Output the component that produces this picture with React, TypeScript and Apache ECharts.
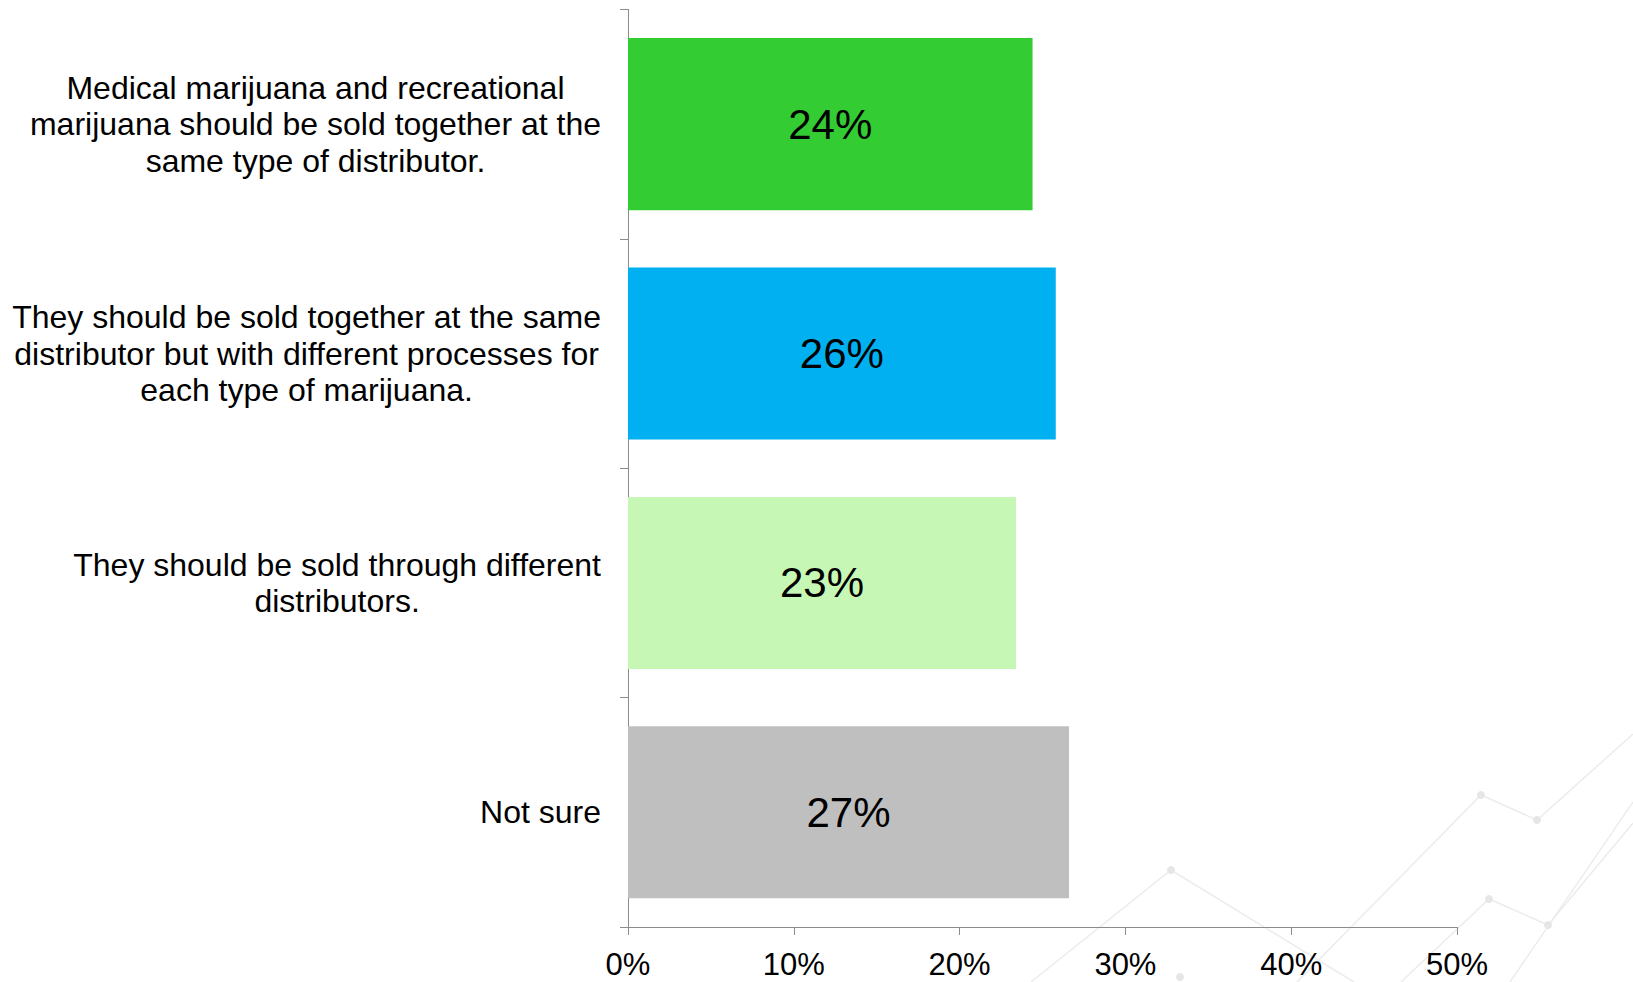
import React, { useEffect, useRef } from "react";
import * as echarts from "echarts";

const categories = [
  "Medical marijuana and recreational\nmarijuana should be sold together at the\nsame type of distributor.",
  "They should be sold together at the same\ndistributor but with different processes for\neach type of marijuana.",
  "They should be sold through different\ndistributors.",
  "Not sure",
];
const values = [24.4, 25.8, 23.4, 26.6];
const valueLabels = ["24%", "26%", "23%", "27%"];
const barColors = ["#33CC33", "#00B0F0", "#C6F7B5", "#BFBFBF"];
const xTicks = [0, 10, 20, 30, 40, 50];

const FONT = '"Liberation Sans", Arial, sans-serif';

// decorative faint watermark lines (background)
const decoLines: number[][][] = [
  [[1031, 982], [1171, 870], [1354, 982]],
  [[1297, 982], [1481, 795], [1537, 820], [1633, 734]],
  [[1401, 982], [1489, 899], [1548, 925], [1633, 823]],
  [[1510, 982], [1633, 802]],
];
const decoDots: number[][] = [
  [1171, 870], [1481, 795], [1537, 820], [1489, 899], [1548, 925], [1180, 977],
];

export default function App() {
  const ref = useRef<HTMLDivElement>(null);
  useEffect(() => {
    if (!ref.current) return;
    const chart = echarts.init(ref.current, null, { renderer: "svg" });
    const graphics: any[] = [];
    decoLines.forEach((pts) =>
      graphics.push({
        type: "polyline",
        z: -1,
        silent: true,
        shape: { points: pts },
        style: { stroke: "#ececec", lineWidth: 1.5, fill: null },
      })
    );
    decoDots.forEach((p) =>
      graphics.push({
        type: "circle",
        z: -1,
        silent: true,
        shape: { cx: p[0], cy: p[1], r: 4 },
        style: { fill: "#e6e6e6" },
      })
    );
    chart.setOption({
      animation: false,
      backgroundColor: "#ffffff",
      graphic: graphics,
      grid: { left: 628, right: 176, top: 9.4, bottom: 55, containLabel: false },
      xAxis: {
        type: "value",
        min: xTicks[0],
        max: xTicks[xTicks.length - 1],
        interval: 10,
        splitLine: { show: false },
        axisLine: { show: true, lineStyle: { color: "#8c8c8c", width: 1 } },
        axisTick: { show: true, length: 8, lineStyle: { color: "#8c8c8c" } },
        axisLabel: {
          formatter: "{value}%",
          fontSize: 31,
          lineHeight: 31,
          fontFamily: FONT,
          color: "#000",
          margin: 22,
        },
      },
      yAxis: {
        type: "category",
        inverse: true,
        data: categories,
        axisLine: { show: true, lineStyle: { color: "#8c8c8c", width: 1 } },
        axisTick: { show: true, length: 8, lineStyle: { color: "#8c8c8c" } },
        axisLabel: {
          margin: 27,
          fontSize: 32,
          fontFamily: FONT,
          color: "#000",
          lineHeight: 36.5,
          formatter: (v: string) =>
            v
              .split("\n")
              .map((l) => "{c|" + l + "}")
              .join("\n"),
          rich: {
            c: {
              align: "center",
              fontSize: 32,
              fontFamily: FONT,
              color: "#000",
              lineHeight: 36.5,
            },
          },
        },
      },
      series: [
        {
          type: "bar",
          barCategoryGap: "25%",
          data: values.map((v, i) => ({
            value: v,
            itemStyle: { color: barColors[i] },
          })),
          label: {
            show: true,
            position: "inside",
            fontSize: 42,
            fontFamily: FONT,
            color: "#000",
            formatter: (p: any) => valueLabels[p.dataIndex],
          },
        },
      ],
    });
    return () => chart.dispose();
  }, []);
  return (
    <div
      ref={ref}
      style={{ position: "absolute", left: 0, top: 0, width: 1633, height: 982 }}
    />
  );
}
